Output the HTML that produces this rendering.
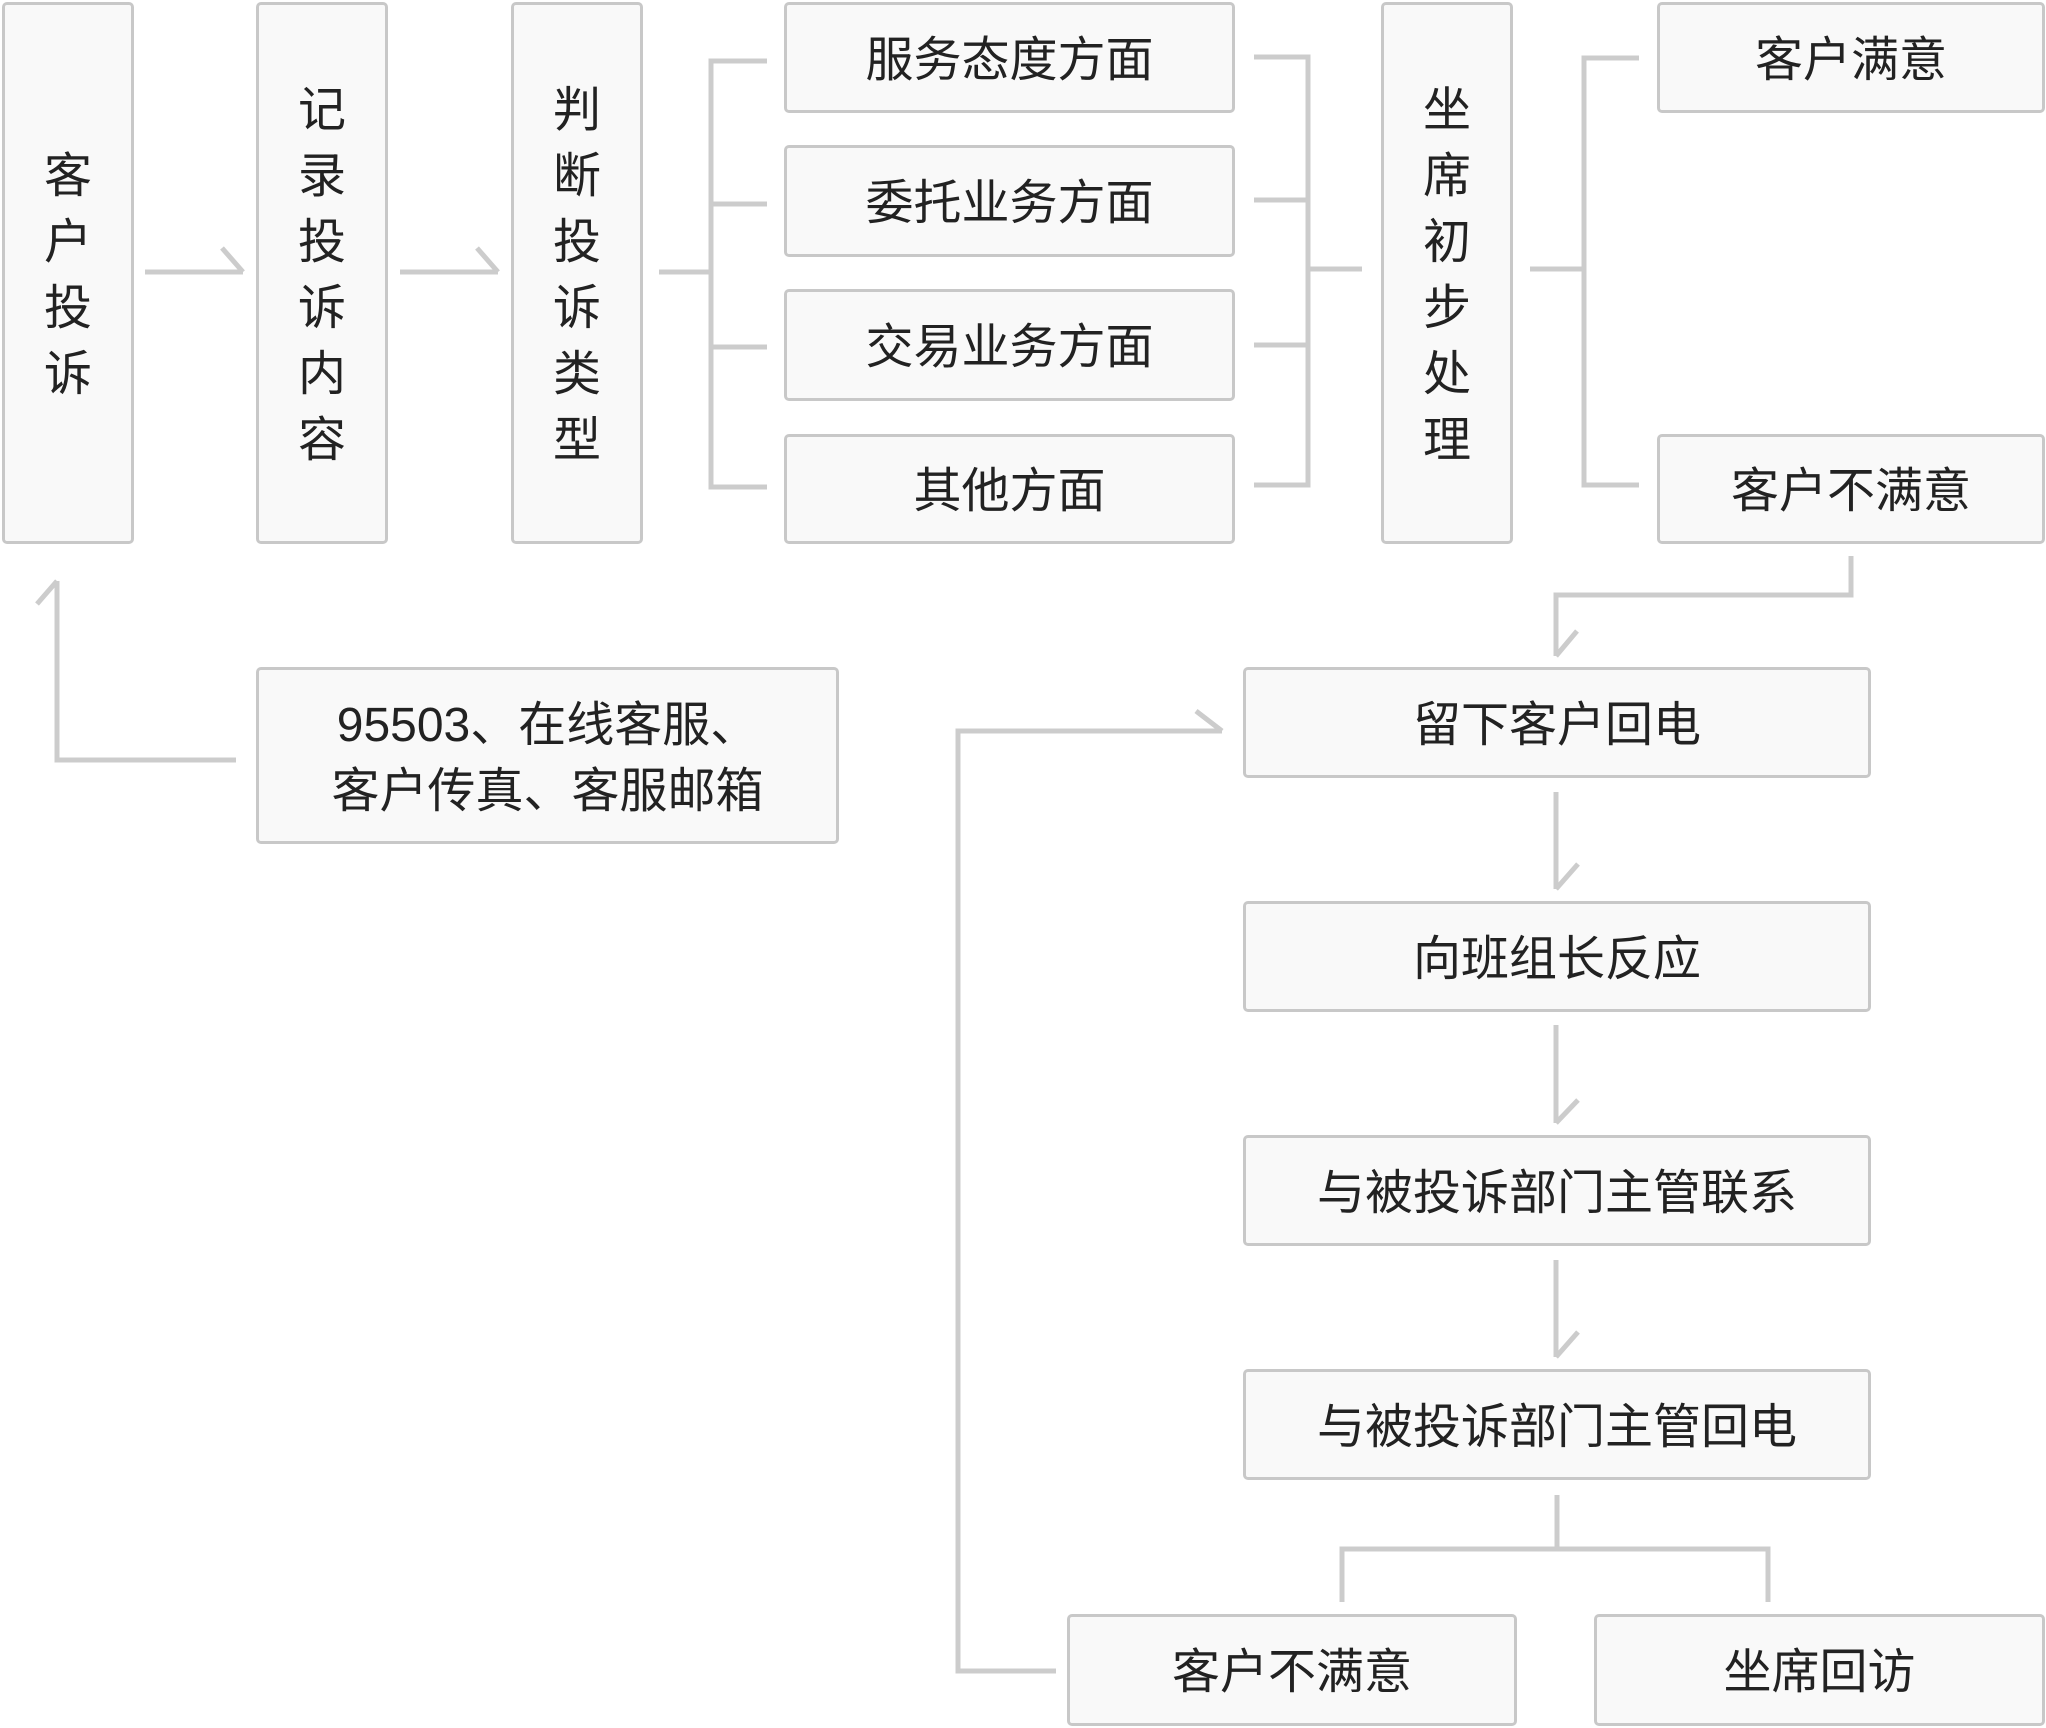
<!DOCTYPE html>
<html><head><meta charset="utf-8"><style>
body{margin:0;width:2046px;height:1728px;background:#fff;position:relative;overflow:hidden;font-family:"Liberation Sans","Noto Sans CJK SC",sans-serif;color:#222}
.b{position:absolute;box-sizing:border-box;border:3px solid #c8c8c8;border-radius:5px;background:#f9f9f9;display:flex;align-items:center;justify-content:center;font-size:48px;text-align:center;line-height:66px;padding-top:6px}
.v{flex-direction:column;width:132px}
.v span{display:block;line-height:66px}
svg{position:absolute;left:0;top:0}
</style></head><body>
<svg width="2046" height="1728" fill="none" stroke="#cccccc" stroke-width="5">
<path d="M145 272H243M222 248L243 272"/>
<path d="M400 272H498M477 248L498 272"/>
<path d="M659 272H711M767 61H711V487H767M711 204H767M711 347H767"/>
<path d="M1254 57H1308V485H1254M1254 200H1308M1254 345H1308M1308 269H1362"/>
<path d="M1530 269H1584M1639 58H1584V485H1639"/>
<path d="M57 581V760H236M57 581L37 604"/>
<path d="M1851 556V595H1556V656M1556 656L1577 631"/>
<path d="M1222 731H958V1671H1056M1222 731L1196 711"/>
<path d="M1556 792V889M1556 889L1578 864"/>
<path d="M1556 1025V1123M1556 1123L1578 1100"/>
<path d="M1556 1260V1357M1556 1357L1578 1332"/>
<path d="M1557 1495V1549M1342 1602V1549H1768V1602"/>
</svg>
<div class="b v" style="left:2px;top:2px;height:542px"><span>客</span><span>户</span><span>投</span><span>诉</span></div>
<div class="b v" style="left:256px;top:2px;height:542px"><span>记</span><span>录</span><span>投</span><span>诉</span><span>内</span><span>容</span></div>
<div class="b v" style="left:511px;top:2px;height:542px"><span>判</span><span>断</span><span>投</span><span>诉</span><span>类</span><span>型</span></div>
<div class="b" style="left:784px;top:2px;width:451px;height:111px">服务态度方面</div>
<div class="b" style="left:784px;top:145px;width:451px;height:112px">委托业务方面</div>
<div class="b" style="left:784px;top:289px;width:451px;height:112px">交易业务方面</div>
<div class="b" style="left:784px;top:434px;width:451px;height:110px">其他方面</div>
<div class="b v" style="left:1381px;top:2px;height:542px"><span>坐</span><span>席</span><span>初</span><span>步</span><span>处</span><span>理</span></div>
<div class="b" style="left:1657px;top:2px;width:388px;height:111px">客户满意</div>
<div class="b" style="left:1657px;top:434px;width:388px;height:110px">客户不满意</div>
<div class="b" style="left:256px;top:667px;width:583px;height:177px">95503、在线客服、<br>客户传真、客服邮箱</div>
<div class="b" style="left:1243px;top:667px;width:628px;height:111px">留下客户回电</div>
<div class="b" style="left:1243px;top:901px;width:628px;height:111px">向班组长反应</div>
<div class="b" style="left:1243px;top:1135px;width:628px;height:111px">与被投诉部门主管联系</div>
<div class="b" style="left:1243px;top:1369px;width:628px;height:111px">与被投诉部门主管回电</div>
<div class="b" style="left:1067px;top:1614px;width:450px;height:112px">客户不满意</div>
<div class="b" style="left:1594px;top:1614px;width:451px;height:112px">坐席回访</div>
</body></html>
